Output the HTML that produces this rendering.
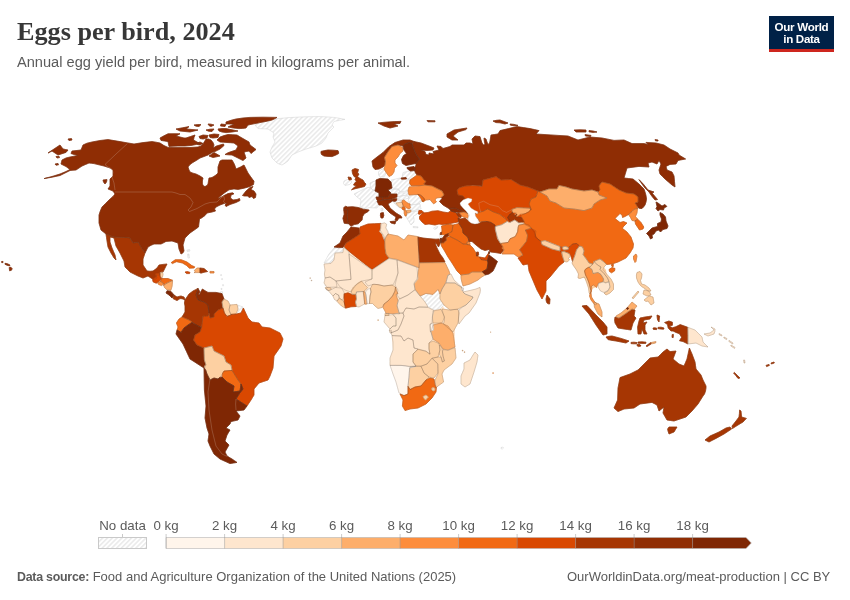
<!DOCTYPE html>
<html><head><meta charset="utf-8">
<style>
html,body{margin:0;padding:0;background:#fff;}
body{width:850px;height:600px;position:relative;overflow:hidden;font-family:"Liberation Sans",sans-serif;}
#title{position:absolute;left:17px;top:15.5px;font-family:"Liberation Serif",serif;font-weight:bold;font-size:26.2px;line-height:32px;color:#373737;white-space:nowrap;letter-spacing:0px;}
#sub{position:absolute;left:16.5px;top:52.5px;font-size:14.61px;line-height:18px;color:#5b5b5b;white-space:nowrap;}
#logo{position:absolute;left:769px;top:16px;width:65px;height:33px;background:#002147;border-bottom:3px solid #ce261e;color:#fff;font-weight:bold;font-size:11.6px;line-height:12px;text-align:center;}
#logo span{display:block;padding-top:4.8px;letter-spacing:-0.3px;}
#foot-l{position:absolute;left:16.5px;top:569px;font-size:13px;line-height:16px;color:#5b5b5b;white-space:nowrap;}
#foot-r{position:absolute;right:19.5px;top:569px;font-size:13px;line-height:16px;color:#5b5b5b;white-space:nowrap;}
svg{position:absolute;left:0;top:0;}
.lg{font-size:13.3px;fill:#5b5b5b;font-family:"Liberation Sans",sans-serif;}
#foot-l b{font-size:12.4px;letter-spacing:-0.25px;}
#title,#sub,#foot-l,#foot-r,#logo,svg{will-change:transform;}
</style></head><body>
<div id="title">Eggs per bird, 2024</div>
<div id="sub">Annual egg yield per bird, measured in kilograms per animal.</div>
<div id="logo"><span>Our World<br>in Data</span></div>
<svg width="850" height="600" viewBox="0 0 850 600">
<defs>
<pattern id="hatch" width="3.4" height="3.4" patternUnits="userSpaceOnUse" patternTransform="rotate(45)">
<rect width="3.4" height="3.4" fill="#fff"/><line x1="0.8" y1="0" x2="0.8" y2="3.4" stroke="#e9e9e9" stroke-width="1.5"/>
</pattern>
</defs>
<g id="map" stroke-linejoin="round">
<g stroke="none">
<path fill="#fee6ce" d="M330 262L345 250L372 266L388 256L397 258L417 265L419 290L425 300L440 300L445 310L455 312L455 345L440 352L436 376L425 385L410 390L395 366L392 340L397 315L385 310L372 300L345 300L332 290L326 280Z"/>
<path fill="#fdd0a2" d="M580 250L590 263L600 262L606 270L608 282L604 290L598 286L590 290L588 280L580 276Z"/>
<path fill="#d94801" d="M455 195L470 188L530 190L530 206L500 214L480 208L470 210Z"/>
<path fill="#d94801" d="M500 205L520 205L526 222L508 224Z"/>
<path fill="#f16913" d="M520 205L540 205L542 243L530 236L526 228L522 222Z"/>
<path fill="#d94801" d="M524 229L534 229L540 242L526 244Z"/>
<path fill="#fee6ce" d="M328 289L345 290L347 304L340 303L333 297Z"/>
</g>
<g fill="url(#hatch)" stroke="#d0d0d0" stroke-width="0.5">
<path d="M255 125L260 122L269 120L278 118.6L289 117.6L300 117L310 116.7L320 116.6L327 116.9L334 117.4L340 118.4L345 119.4L339.5 120.4L334 121.4L333 123.2L332 125L334 127L331 130L328 133L327 135.5L326 138L324 140.5L322 143L319 144.6L316 146L311 147.6L306 149L302 150.5L298 152L295 153.5L292 155L290 158L288 161L285 163.2L282 165L279.5 164.2L277 163L274.5 160.5L272 158L271 155L270 152L271 149.5L272 147L273.5 144.5L275 142L274 139.5L273 137L273.5 135L274 133L271 131L268 129L263 128.8L258 128.6Z"/>
<path d="M186.8 250L189.6 249.6L190 251L187.4 251.6Z"/>
<path d="M187.6 254L189 254L189.4 258L188 258Z"/>
<path d="M220.6 291.6L222.6 291.6L222.6 293.6L220.6 293.6Z"/>
<path d="M220.6 274.6L221.6 274.6L221.6 275.6L220.6 275.6Z"/>
<path d="M221.6 278.6L222.6 278.6L222.6 279.6L221.6 279.6Z"/>
<path d="M222.6 284.6L223.6 284.6L223.6 285.8L222.6 285.8Z"/>
<path d="M221 288.4L222 288.4L222 289.4L221 289.4Z"/>
<path d="M237.4 305L240.2 306L243 307L242 310L241 313L239.5 313.3L238 313.6L237 314L238 311.5L238 309L237.5 306.7Z"/>
<path d="M403 172.5L407.5 171.4L410.5 171.2L414.5 170.8L415.6 173L417 175L415 176.5L410 179.6L406.5 178.8L406 177.3L402.5 177.4L402.4 175Z"/>
<path d="M344 181L347.5 179.5L349 180L351 180L351.5 182.5L349.5 184.5L345 185.5L343.5 183.5Z"/>
<path d="M378.5 172L381 169.5L383.5 169L386 171L385.5 174.5L384 177L380 177L378.6 175Z"/>
<path d="M370 183L373 181.6L376 181L376 186L375.5 188.5L375 191L372.5 190L370.5 187.6Z"/>
<path d="M354 194L357 192.5L360 191L363 189.5L366 188L368.5 187.5L370.5 187.6L372.5 190L375 191L377 192L379 193L379 195L378 198L377.5 199.5L377 201L378 203L379 205L378 206.5L377 208L373 207.8L369 207.6L367.5 208.3L366 209L363 208L360 207L360.5 203.5L361 200L359 198.5L357 197Z"/>
<path d="M381 208.4L382.7 208.2L383 210L382 211.4L381 210.4Z"/>
<path d="M388 190L393 189.5L398 189L399 190.5L400 192L398 193L396 194L393 194L390.4 193.6L389.5 191.5Z"/>
<path d="M391 180L395.5 179L400 178L404.5 178.5L409 179L409.5 182.5L410 186L409.5 188.5L409 191L404.5 191.3L400 191.6L398.6 189L396 188.8L392 188L391.5 185L391 182Z"/>
<path d="M399 192.8L403.5 192.8L408 193L407.5 194.2L407 195L402 195.8L398 196.4L397 195L398 193.6Z"/>
<path d="M397 197L402 196L407 195L408 196.5L409 198L405.5 199L402 200L399.5 199.7L397.6 199Z"/>
<path d="M393 201.2L396 201L399 200.4L402.1 200.7L402.1 202.3L395.9 203.1L397.3 204.9L399.9 207.6L402.1 207.3L402 208.7L398.5 207L396 205L394 203Z"/>
<path d="M408 196L413 195.2L418 194.4L419 196.5L420 198.5L421 200L422 201L420.5 202.5L419 204L414.5 204.5L410 205L409 203L408 201L409 198.5Z"/>
<path d="M410 205L415 204.5L420 204L420.5 206.5L421 209L416.5 210L412 211L410.6 209.6L410 207Z"/>
<path d="M406 215L409 213.3L412 211.6L416 211.3L420 211L418 213L416 215L414.5 215.5L413.5 216L414 219L414 222L412.5 223.5L411 225L409.5 222.5L408 220L406.6 217.6L405.6 215Z"/>
<path d="M413 226.6L418 226.8L418 227.8L413.2 227.6Z"/>
<path d="M433.5 228L435.5 227L438 226.5L437 228.4L434.6 229.4Z"/>
<path d="M324 263L326.5 258.5L329 254L331.5 251L334 248L338.8 248L343.6 248L343.3 250L343 252L339 252.2L335 252.4L334.5 256.2L334 260L332.5 261.5L331 263Z"/>
<path d="M325 284.6L331 284.4L331 285.6L325.2 285.8Z"/>
<path d="M420 296L423 294.7L426 293.4L429.5 293.9L433 294.4L435.5 291.9L438 289.4L439 291.7L440 294L440 296.5L440 299L442 302L444 305L442 307L440 309L437 309.5L434 310L431 308.5L428 307L426.5 304.5L425 302L422.5 299Z"/>
<path d="M439.8 234.5L441.2 234.5L441.7 238.5L440 238.5Z"/>
<path d="M501 447.6L502.6 447L503.6 448L502.4 449L501.2 448.8Z"/>
</g>
<defs>
<path id="p0" d="M44 178.6L52 176.5L60 174L66 171.5L70 169.5L66 166.5L61 164L62 160L66 158L70 157L78 155.4L74 154.5L71 153.5L72 151L76 150.6L81 150L82 147.5L83 145L87 143.2L92 142L100 140.5L108 139.6L114 140.6L120 141.6L128 143L134 144L143 142.6L152 141.6L156 142.2L160 143L164 145.6L168 147.4L174 147.6L180 147.6L190 147.5L198 147L201 146L203 144L204.5 141.5L206 139L208.5 139L211 140L213 142.5L214 145L213 148L216.5 146L220 145L223.5 144L224 145.5L222 147.3L220 149L217.5 150.3L215 151.5L213 152L210.5 153.5L208 155L204 156.5L200 158L197 160L192 163L189.5 165L188 167L189 170L190 172L193 173.2L196 174L200 176L203 178L202.4 181L202.4 184L203.5 186L205 186.6L207 185.5L208 184L208.5 181L209 178L211 177.8L213 177L216 175L218 173L218 170L218 167L219 164L220 161L222 160L223 160L227.5 160L232 160L233.3 162.2L234.5 164.5L235.3 166.8L236 169L240.5 167L244 165L246 169L248 173L250.5 176.5L253 180L254 181L253.5 184.5L250 186.5L244 188.2L238 189.4L234 188.9L229 189.8L224 193.2L220 196.4L218.5 198L218.5 198.5L221 197.3L224 195.6L228 193.6L232.5 192.8L234 193.8L231 195L230.5 198L233 200L237 199.5L239.5 198.5L240 200.5L236 202.5L230 204.5L226 206.5L225 205L227 203L224 203.5L220 205L216 207L214.5 209L215.5 211L212 212L207 213L205 215.5L201.5 218L199.5 219L199 223L198.5 227L195 229.5L190 233L187.5 235.5L185 238L184 241.5L183 245L183.5 248L184 251L182.8 253L181 254L180 251.5L179 249L178.5 246L178 243L175 242L172 241L169 241.2L166 241.4L163.5 242.8L161 244L157.5 244L154 244L151 245.3L148 247L146.5 250L145 253L143.5 251L142 249L140 245.5L138 242L135.5 242.6L133 243L131.5 240.5L130 238L127.5 237.6L125 237.4L119 237.2L114 237L110 235.5L106 234L103.5 232L101 230L100 226.5L99 223L99 219L99 215L100.3 211L102 207L105.5 203.5L109 200L111 198.2L113 196.4L114 195.2L115 194L114 192.5L113 191L110.5 190L108 189L109 187.5L110 186L110 182.5L110 179L111.5 177.5L113 176L113 173L113 170L111.5 169L110 168L107 167L104 166L99 164.8L94 163.6L91.5 163.3L89 163L85.5 164.5L82 166L79 168L76 170L73 170.2L70 170.5L65 173L60 175.5L52 177.2Z"/>
<path id="p1" d="M48 153L54 149L60 145L61.5 147L63 149L65.5 149.5L68 150L67 151.2L66 152.4L62 153.7L58 155L55 153L52 151Z"/>
<path id="p2" d="M68 139L71.5 138.6L72 140L69 140.6Z"/>
<path id="p3" d="M56 156.5L59 156.3L59.5 157.6L57 158Z"/>
<path id="p4" d="M55 164L58 163.4L58.5 164.8L56 165.2Z"/>
<path id="p5" d="M103 180L107 179.6L106.5 182L105 184L103.5 182Z"/>
<path id="p6" d="M160 138L164 135.8L168 133.8L174 133.7L180 133.8L178 134.9L176 136L180 137L184 138L186 138L190.5 136.5L195 135L194 137.5L193.5 140L197 142L200 143.6L196 144.5L191 145.5L185 146L178 146L173 146.2L169 146.4L168.5 144L168 141.6L164.5 141L161 140.4Z"/>
<path id="p7" d="M176 129L182.5 127.8L189 126.6L187.5 128L186 129L192 129.5L198 130L194 131L190 132L185 131.5L180 131Z"/>
<path id="p8" d="M194 125L197.5 124.6L201 124.6L199 126.5L196 126.2Z"/>
<path id="p9" d="M208 124L211 124.2L214 125L211 126.5L209 125.6Z"/>
<path id="p10" d="M206 130L210 129.2L214 129L212 131.5L208.5 131.2Z"/>
<path id="p11" d="M221 124L226 124.6L225 126.5L220.5 126Z"/>
<path id="p12" d="M218 129L222 128.6L226 128.6L232 129.8L238 131L232 132L226 132.6L222 132L219 131Z"/>
<path id="p13" d="M226 122L231 120.3L236 119L243 118L250 117.4L263 117.2L277 117.4L274.5 118.8L272 120L266 121.4L260 122.6L254 123.8L248 125L247 126.5L246 128L242.5 128.4L239 128.6L233.5 128L228 127L231 125.5L234 124L230 124L226 124Z"/>
<path id="p14" d="M217 140L218.5 138.5L220 137L224 135.6L228 134.5L232.5 134.7L237 135L239.5 136.5L242 138L245.5 140L249 142L249.5 143.5L250 145L253 147.2L256 149.5L253.5 151.5L251 153.5L250 152.2L249 151L246.5 151.5L244 152L244.5 153.5L245 155L245.5 156.5L246 158L244.5 159.3L243 160.5L240.5 159.3L238 158L235 156.5L232 155L228.5 154.8L225 154.5L227.5 153L230 152L233 151L236 150L237 148L238 146L236 144.5L234 143L230.5 142.7L227 142.5L223.5 142.2L220 142Z"/>
<path id="p15" d="M209 156L211.5 154.2L214 152.5L217 154.2L220 156L216.5 156.8L213 157.5Z"/>
<path id="p16" d="M242.5 195.5L246 191L250 187.5L253 186.5L251 189.5L254 191L256 194L255.5 197.5L253.5 198.5L252 196.5L249 197.5L248 196L244.5 196Z"/>
<path id="p17" d="M1.5 261.6L3 261.4L3 262.6L1.7 262.6Z"/>
<path id="p18" d="M5 263.3L7.5 263.8L10 265L9.6 265.9L7 265.2L5 264.3Z"/>
<path id="p19" d="M9.2 267.5L11 267.3L12.2 268.8L11.4 270.3L9.6 270.8Z"/>
<path id="p20" d="M321 151.4L324.5 150.6L328 150L333 150.2L338 150.6L338.6 152L338.6 153.6L335.5 155.2L332 156.6L328 156.4L324 156L321.5 154.5L321 153Z"/>
<path id="p21" d="M106 234L110 235.5L114 237L119 237.2L125 237.4L127.5 237.6L130 238L131.5 240.5L133 243L135.5 242.6L138 242L140 245.5L142 249L143.5 251L145 253L144 256L143 259L143 262L143 265L145 268L147 271L150 271.3L153 271L155 269.6L157 268L158 266.5L159 265L163 264.4L167 264L166 266L165 268L164 270L163 272L161.5 272.6L160 273L160 275L158 275L156 275L156.5 276.5L157 278L155.5 279L154 280L151 278L148 276L145.5 277L143 278L140.5 277L138 276L134 274L130 272L127.5 269.5L125 267L124.5 264L124 261L122 257L120 253L118 249.5L116 246L115 242L114 238L112 237.4L110 237L110 239.5L110 242L111 245L112 248L113.5 251.5L115 255L115.5 257.5L116 260L115 259L114 258L112.5 255.5L111 253L109.5 250L108 247L107.5 244L107 241L106.5 237.5Z"/>
<path id="p22" d="M160.3 272.6L162.6 272L163 274.5L162.4 277.4L160.3 277.4L159.9 274.5Z"/>
<path id="p23" d="M152.6 279.7L156.2 276.8L155.6 273.8L159.7 273.2L160.3 277.4L162 278.5L159.1 281.5L156.2 283.2L153.2 282Z"/>
<path id="p24" d="M160.3 281.5L162 278.5L162.6 278.5L167.9 278.5L172.6 280.3L170.3 281.5L165.6 283.8L163.8 285.6L163.8 283.8L160.9 281.5Z"/>
<path id="p25" d="M157.4 282.6L160.9 281.5L163.8 283.8L161.5 285.6L158.5 284.4Z"/>
<path id="p26" d="M163.8 285.6L165.6 283.8L170.3 281.5L172.6 280.9L172.1 286.2L170.9 290.3L166.8 289.7L164.4 287.4Z"/>
<path id="p27" d="M167 290.8L169 291L171 291.4L172.5 293.2L174 295L173 296.8L172 298L170.5 296.5L169 295L167.5 294L166 293Z"/>
<path id="p28" d="M174 295L175.5 296L177 297L179 296.4L181 296L182.5 296.5L184 297L184.7 298.5L185 300L184 299.5L183 299L181.5 298.7L180 298.6L178.5 299.6L177 300.6L175 299.6L173 298.6L173.5 296.8Z"/>
<path id="p29" d="M171.2 262.6L175.3 259.7L181.2 259.7L187 262L191.8 265.6L194.7 266.8L194.1 268L189.4 268.2L186.5 265.4L182.4 263L176.5 261.7L172.4 263.6Z"/>
<path id="p30" d="M185 272L187.5 271.6L190 272.4L189.5 273.6L186.5 273.6Z"/>
<path id="p31" d="M195.3 271.5L194.3 270.4L197 268L200 268L200 272.6L194 272.6Z"/>
<path id="p32" d="M200 268L204 268.5L207.6 271.5L204 272.3L200.6 273.2L200 272.6Z"/>
<path id="p33" d="M210 271.4L214 271.5L214 273L210 273Z"/>
<path id="p34" d="M185 300L187 297L189 294L191 292.5L193 291L195.5 289.7L198 288.4L197 291.7L196 295L197 297.5L198 300L201 301L204 302L206 303.5L208 305L208.5 309L209 313L208.5 314.5L208 316L205.5 316L203 316L202.3 321.5L201.6 327L200.3 326.7L199 326.4L197.5 325.7L196 325L194 323.5L192 322L190.5 321L189 320L185.5 318.5L182 317L183.5 314.5L185 312L185 309L185 306L184.4 303Z"/>
<path id="p35" d="M198 288.4L199 290.2L200 292L199.2 293L198.4 294.6L199.6 294.6L200.4 292.6L201.4 290.8L202.4 289L205 290.7L208 292.4L212 292.4L216 292.4L219 293L222 293.6L223 296.3L224 299L223 300.5L222 302L222.5 305L223 308L220.5 309L218 310L216 312L214 314L214 317L212 317.5L210 318L209.5 315.5L209 313L208.5 309L208 305L206 303.5L204 302L201 301L198 300L197 297.5L196 295L197 291.7Z"/>
<path id="p36" d="M224 299L226 300L228 301L229 303L230 305L229.5 307.5L229 310L230 312.5L231 315L229 315.7L227 316.4L225.7 314.7L224.4 313L223.7 310.5L223 308L222.5 305L222 302L223 300.5Z"/>
<path id="p37" d="M230 305L233.5 304.7L237 304.4L237.5 306.7L238 309L237 311.5L236 314L233.5 314.2L231 314.4L230 312.5L229 310L229.5 307.5Z"/>
<path id="p38" d="M182 317L185.5 318.5L189 320L192 322.2L188 325L186 326.5L184 328L182.5 330.2L181 332.4L179 331.2L177 330L177.5 328.5L178 327L177.2 325L176.4 323L177.7 321L179 319Z"/>
<path id="p39" d="M188 325L190 323.7L192 322.4L195.5 324.4L199 326.4L200.3 326.9L201.6 327.4L200.8 329.7L200 332L197.5 333.5L195 335L194.3 337.5L193.6 340L195.3 342.5L197 345L200.5 346.5L204 348L204.2 354L204.4 360L205.2 362.5L206 365L205 366.5L204 368L197 363.5L190 359L186.5 351.5L183 344L179.5 339L176 334L176.5 332L177 330L179 331.2L181 332.4L182.5 330.2L184 328L186 326.5Z"/>
<path id="p40" d="M214 314L216 312L218 310L220.5 309L223 308L223.7 310.5L224.4 313L225.7 314.7L227 316.4L229 315.7L231 315L231 314.4L233.5 314.2L236 314L237 314L238 313.6L239.5 313.3L241 313L242.2 310.5L243.4 308L245.7 313L248 318L250 320L252 322L255.5 322.5L259 323L260.5 325L262 327L266 327.5L270 328L275 330.5L280 333L281.5 336L283 339L282 342.5L281 346L277.5 351L274 356L273.5 362L273 368L271.5 372L270 376L269 378L268 380L263.5 381.5L259 383L256.5 386L254 389L254 392L254 395L252.5 397.5L251 400L249 403L247 406L241.5 402.5L236 399L239.5 393.5L243 389L242 386.5L241 384L239.5 382L238 380L235 375.2L232 370.4L231.5 367.7L231 365L228.5 363.5L226 362L225 359L224 356L219 353.5L214 351L213 348.5L212 346L208 347L204 348L200.5 346.5L197 345L195.3 342.5L193.6 340L194.3 337.5L195 335L197.5 333.5L200 332L200.8 329.7L201.6 327.4L202.3 321.5L203 316L205.5 316L208 316L209 313L209.5 315.5L210 318L212 317.5L214 317Z"/>
<path id="p41" d="M204 348L208 347L212 346L213 348.5L214 351L219 353.5L224 356L225 359L226 362L228.5 363.5L231 365L231.5 367.7L232 370.4L228 370.7L224 371L222.5 373.5L221 376L219.5 377.5L218 379L216 378.5L214 378L212 379L210 380L208.5 377L207 374L205.7 370L204.4 366L206 365L205.2 362.5L204.4 360L204.2 354Z"/>
<path id="p42" d="M224 371L228 370.7L232 370.4L235 375.2L238 380L239.5 382L241 384L240.5 387.5L240 391L236.5 391.5L233 392L233.5 389L234 386L230.5 384L227 382L224.5 379.5L222 377L222.5 373.5Z"/>
<path id="p43" d="M204 368L205.7 370L207 374L208.5 377L210 380L212 379L214 378L216 378.5L218 379L219.5 377.5L222 377L224.5 379.5L227 382L230.5 384L234 386L233.5 389L233 392L236.5 391.5L240 391L240.5 387.5L241 384L242 386.5L243 389L239.5 393.5L236 399L241.5 402.5L247 406L245.5 408L244 410L240 410.5L236 411L238 413.5L240 416L239 418L238 420L234.5 420.8L231 421.6L230.5 422.8L230 424L228 426L226 428L228 429L230 430L228.5 432.5L227 435L226 438L225 441L227 443L229 445L227 448.5L225 452L226 454L227 456L229.5 457.5L232 459L234.5 460.7L237 462.4L233.5 463L230 463.6L225 461.3L220 459L217 456.5L214 454L212 450L210 446L209 443.5L208 441L208.5 437.5L209 434L208 431L207 428L206 423L205 418L205.5 412L206 406L205.2 398L204.4 390L204.2 380Z"/>
<path id="p44" d="M412 143.5L414 141.5L421 143L429 146L434 148L433 150L427 150.5L421 150L425 151.5L426 154.5L429 155L429 153L434 154L433 151.5L439 150L437 146L441 146.5L443 148.5L450 146.5L452 145L458 145L464 145L466 143L470 143L473 144L472 139L475 136L480 136.6L481 140L482 143L483.5 145L485 144.5L484.3 141L484 138L486 139L487 142L488 144.5L489.5 143L490 141L490.5 138L491 135L494.5 134.5L498 134L499 132.3L500 130.6L508.5 128.6L517 126.6L523.5 127.6L530 128.6L534.5 129.6L539 130.6L537.5 132.3L536 134L547 134.7L558 135.4L563 135.7L568 136L573 138L578 140L582 139L586 138L588 137.5L590 137L596 137.5L602 138L608 139.2L614 140.4L619 140.2L624 140L628 141.8L632 143.6L638 143.6L644 143.6L646 144L648 144.4L647 143.4L646 142.4L651 142.7L656 143L660 144L664 145L667 147L670 149L674 151L678 153L678.5 154L679 155L682.3 157L685.6 159L681.8 159.7L678 160.4L677 162.2L676 164L673 164.2L670 164.4L668 165.4L666 166.4L666.5 168.2L667 170L669.5 171L672 172L673 174L674 176L674.5 181.5L675 187L673.5 186L672 185L668.5 182L665 179L662.5 176.5L660 174L659.5 172L659 170L660 167L661 164L660 162.2L659 160.4L658 162.2L657 164L654.5 163L652 162L650 162.5L648 163L648.5 165L649 167L644 166.7L639 166.4L633 167.2L627 168L625.5 173L624 178L628.5 178.5L633 179L636 181.5L639 184L641.5 186.5L644 189L645 192L646 195.5L646.5 199L646 202L645 205L643.5 207L642 208.5L640 208.4L638.5 208L637 206L635 203L638 202L638 197L634 194L626 193L619 190L616 188L613 186L610 184L606 183L602 182L600.5 184L599 186L599.5 188L600 190L598 192L595 191L592 190L588 190.5L584 191L578 190L572 189L569 188L566 187L562.5 186.2L559 185.4L558 187.2L557 189L553 189L549 189L544.5 190.5L540 192L538 191L533 189L528 187L524 186L520 185L515.5 182.2L511 179.4L506 179.7L501 180L498.5 178.3L496 176.6L489.5 178.3L483 180L482.5 183L482 186L477 185.5L472 185L471 185.5L465 186L460 187.5L457 190L457.5 192.5L458 195L463 196L465 198.5L463 200L460 203L460.5 205L463 208L466 211L467.5 213.5L464 212L463 211L459 210L455 208L452 208.2L449 208.5L448 208L443 205L439.5 201.5L442 198.5L441 197.5L442.5 196.3L444 195L443 193L442 191L437 188.5L432 186L428 185.5L425 185L424 183.5L426 181.5L424 180L421 176L417 175L415.6 173L414.5 170.5L415 167.5L416 165L416 163.5L417.7 161.2L419.5 159L417 156L415 152L413 147Z"/>
<path id="p45" d="M401 178L406 177.5L406.5 179L401.5 179.2Z"/>
<path id="p46" d="M639 179.6L643.5 184.3L648 190L651 191L654 192L652 193L655 196.5L657.5 199.5L655 200L652.5 197L651 195L649 192L645 188L642 184Z"/>
<path id="p47" d="M447 134L450.5 132L454 130L460.5 129L467 128L466 129.6L462 130.8L458 132L455.5 134L453 136L455.5 138L458 140L455 140L452 140L449.5 138.5L447 137Z"/>
<path id="p48" d="M378 123L383 122.4L388 122L394.5 121.6L401 121.4L400.5 122.4L400 123.4L397 123.7L394 124L396 125L398 126L394 127L390 128L387 127L384 126Z"/>
<path id="p49" d="M427 120.6L435 120.8L435 121.8L428 121.8Z"/>
<path id="p50" d="M493 121L496.5 120.3L500 120L504 121.5L508 123L505 124L500 122.8L496 122.6Z"/>
<path id="p51" d="M510 124L514 124.4L518 125.4L514 125.8L510.5 125.2Z"/>
<path id="p52" d="M574 130L580 129.8L586 130L586 132L580 132L576 132Z"/>
<path id="p53" d="M589 130.6L593 131L597 132L593 132.4L589 131.8Z"/>
<path id="p54" d="M585 134.6L591 135.4L590.5 136.4L585.5 136Z"/>
<path id="p55" d="M655 139.6L658 140L658 141L655.5 140.8Z"/>
<path id="p56" d="M372 161L377 157L383 152.5L389 146.5L395 142.5L403 140L410 140L414 141.5L412 143.5L409 142.5L405 144L403 146L398 145L392 146.5L387.5 152.5L384.5 157.5L385.5 161.5L385 165L383 167L379 169L375 169.5L373 167Z"/>
<path id="p57" d="M392 146.5L398 145L402.5 147.5L403 151L400 153.5L398 157L395 160L395 163L397 165.5L394.5 168.5L394 172L392 175L389 176.5L386.5 173L384 169L385 165L385.5 161.5L384.5 157.5L387.5 152.5Z"/>
<path id="p58" d="M405 144L409 142.5L412 143.5L413 147L415 152L417 156L419.5 159L416 163.5L413 164L406 165.5L402.5 163.5L401.5 159.5L403.5 155.5L406.5 153.5L405 151.5L403.5 149L403 146Z"/>
<path id="p59" d="M407 167.5L414 166.5L415 167.5L414.5 170.5L410.5 171L407.5 169Z"/>
<path id="p60" d="M410 180L415 176.5L417 175L421 176L424 180L426 181.5L424 183.5L425 185L421 185.5L411 185.5L409.5 183Z"/>
<path id="p61" d="M409 187L414 186.4L419 186L421.5 185.5L424 185L428 185.5L432 186L437 188.5L442 191L443 193L444 195L442.5 196.3L441 197.5L438.5 197.7L436.5 198L435 200L436.5 201.8L435 203L433.5 203.8L431.5 201.5L430 199.5L428 199.8L426 200L424.5 201L423 202L422.5 200.5L424.5 199.5L423 197.5L421 195L417.5 194.5L413.5 194.7L409 195L408.5 193L408 191Z"/>
<path id="p62" d="M417.8 194.3L420.2 195.1L422.3 196.4L424.7 199.1L424.2 200.9L422.3 201.5L421.3 199.1L419.9 196.9Z"/>
<path id="p63" d="M352 170L355 168.5L358.5 169.5L357.5 173L359 174L357.5 176.5L360 178.5L363 180L364.5 182.5L366 184L364.5 186.5L360.5 187.5L356 188.5L351.5 189.8L354 187.5L356.5 186L353.5 185L355 182.5L356.5 181.5L355 179.5L356 177.5L354 176.5L352.5 173.5Z"/>
<path id="p64" d="M348 177L351 177.5L351.5 179.5L349 180Z"/>
<path id="p65" d="M376 180L378 179.2L380 178.4L384 178.7L388 179L389.5 180.5L391 182L391.5 185L392 188L390 189L388 190L389.5 191.5L391 193L389.5 195L388 197L383.5 197L379 197L379 195L379 193L377 192L375 191L375.5 188.5L376 186Z"/>
<path id="p66" d="M376 197L379 197L382 197L382.5 198.5L383 200L380.5 200.5L378 201L376.6 199.4Z"/>
<path id="p67" d="M382 197L385.5 197L388 197L389 195.5L390 194L393.5 194L397 194L397 195.5L397 197L394.5 198L392 199L389 199.3L386 199.6L383 200L382.5 198.5Z"/>
<path id="p68" d="M392 199.4L394.5 198.6L397 198.8L396.5 200.4L395 201.4L392.5 201Z"/>
<path id="p69" d="M377 201L380 200.5L383 200L384.5 199.8L386 199.6L389 199.5L392 199.4L392.5 201L391 202L389.5 203L388 204L389 206L390 208L393 210.5L396 213L398.5 214.5L401 216L401.5 217L402 218L400.5 218L399 218L398 219.5L397 221L396 220.5L395 220L395.5 218.5L396 217L393 215L390 213L387.5 210.5L385 208L383.5 206.5L382 205L380.5 205L379 205L378 203Z"/>
<path id="p70" d="M390 221.6L393 221.3L396 221L395.5 222.5L395 224L393 223.5L391 223Z"/>
<path id="p71" d="M380.6 213L383.4 212.6L383.8 215.5L383 218L381 218L380.4 215.5Z"/>
<path id="p72" d="M395.9 203.1L399 202.6L402.1 202.3L403.1 205.5L402.1 207.1L399.9 207.6L398.5 206.2L397.3 204.9Z"/>
<path id="p73" d="M402.1 200.7L403.9 199.9L406.3 202L408.5 203.6L410.1 203.9L409.8 206L410.6 207.6L409.5 208.7L407.9 208.4L406.6 207.9L405.5 207.1L403.7 206.5L403.1 205.5L402.1 202.3Z"/>
<path id="p74" d="M402.1 207.3L403.7 206.8L405.3 207.9L404.7 209.7L403.1 210L402 208.7Z"/>
<path id="p75" d="M404.2 210L405.5 209.7L406.3 211.3L406.9 213.5L406.1 216.1L405 215.9L404.2 213.5Z"/>
<path id="p76" d="M406.6 210.5L408.5 210L410.9 210.3L411.1 211.6L409 212.7L407.1 212.9L406.6 211.6Z"/>
<path id="p77" d="M347.5 207L352.5 206.7L358.3 207.5L363.3 209.2L369.2 210L367.9 211.7L364.2 213.8L362.5 216.7L362.1 220L358.3 223.8L354.2 224.6L350.8 226.2L348.8 223.8L347.9 221.7L347.1 215.8L347.9 210.4L346 209.6L343.8 210L343.8 207.5L345.8 206.2Z"/>
<path id="p78" d="M343.8 210L346 209.6L347.9 210.4L347.1 215.8L347.9 221.7L348.8 223.8L344.2 223.3L342.9 218.3L344.2 214.2Z"/>
<path id="p79" d="M419.5 216.5L422.5 213L428 212.5L432 211.2L438 210.7L443 212L448 212.7L450.5 211L455 212.2L457.5 214.5L459 218L458 222L453 223L448 224L442 224.5L439 224L435 225L429 224L425 224.5L422 222L419.5 219Z"/>
<path id="p80" d="M418.9 210.5L421.8 210.5L423.7 212.4L421.8 212.9L419.7 214.3L418.3 214Z"/>
<path id="p81" d="M449 208.5L452 208.2L455 208L459 210L463 211L464 212L460 212.5L455 212.2L451 211Z"/>
<path id="p82" d="M456.5 213.5L459.5 212.8L461.5 215.8L461.5 216L460.5 218L458 216Z"/>
<path id="p83" d="M460 212.5L464 212L467.5 213.5L468 215L468.5 218.5L466 217.5L463 217L461.5 215.8L459.5 212.8Z"/>
<path id="p84" d="M465 198.5L463 196L458 195L457.5 192.5L457 190L460 187.5L465 186L471 185.5L477 185.8L482 186.5L482.5 183L483 180L489.5 178.3L496 176.6L498.5 178.3L501 180L506 179.7L511 179.4L515.5 182.2L520 185L524 186L528 187L533 189L538 191L537 194L536 197L533.5 198L531 199L530 201.5L529 204L530 206.3L531.2 210L530 208.2L523.5 207.9L517 207.6L511.8 209.4L512.4 212.4L510 214L507.6 217.6L508.8 219.4L507.6 221.2L504.1 217.6L499.4 214.1L493 211.8L487.6 208.8L483.5 211.2L480.6 211.8L479 212.5L475 213L470 210L466 205L463 200Z"/>
<path id="p85" d="M511.8 209.4L517 207.6L523.5 207.9L530 208.2L531.2 210L525.3 213.5L520.6 214.1L517 216.5L514.7 215.3L516.5 213L512.4 212.4Z"/>
<path id="p86" d="M507.6 217.6L510 214L510.6 214.1L512.4 212.4L514.7 215.9L517 214.1L515.3 217L521.8 217.6L524.1 221.8L518.2 222.4L514.7 220L510 222.4L508.8 219.4Z"/>
<path id="p87" d="M476.5 214.1L479 212.5L480.6 212L483.5 211.2L487.6 208.8L493 211.8L499.4 214.1L504.1 217.6L507.6 221.2L501.8 224.7L495.3 226.5L491.2 222.4L485.3 221.2L479.4 221.8L478.2 218.8L475 217L475 213Z"/>
<path id="p88" d="M538 191L540 192L543.5 194L547 196L548.5 198.5L550 201L553 202L556 203L560 205.5L564 208L569 208.5L574 209L579 209.8L584 210.6L588 209.3L592 208L593 206L594 204L597 202L600 200L603.5 199L607 198L603 196.5L599 195L598.5 193.5L598 192L600 190L599.5 188L599 186L600.5 184L602 182L606 183L610 184L613 186L616 188L619 190L626 193L634 194L638 197L638 202L635 203L637 206L637.5 208.5L634.5 209L632 211.5L628.5 214.5L625 216.5L622.5 217.5L622.3 216L622 215L620 213.5L617.5 216L615 218.5L617.5 220.5L620 222.5L623.5 221.5L627 223L625 225L623 227L622.5 228.5L624.5 230L627 232L629 234.5L631 237L632 240L633.5 244L633 248L631.5 250.5L630 253L628 255.5L626 258L622 260L618 262L615 263L612 264L611.5 266L613 267L613.5 264.5L611 264L609 264.3L606.5 264.5L604 262L600 259L597 260.2L594 261.5L593 264L592.5 264L589 263L587 260L583 254.5L584 251L582.5 247L579.5 246L576.5 243.5L572.5 244L569.5 247L568.5 247.5L565 246.2L562 247.5L561.6 247L560 246.6L552.5 243.6L545 240.6L543 241L541 241.4L538 239.2L535 237L535.5 234L536 231L533.5 229.5L531 228L530 226.5L529 225L527 224.5L525 224L524.5 222.5L524 221L522.5 218.5L521 216L522 215L525.5 213.5L529 212L530 210.3L531 208.6L530 206.3L529 204L530 201.5L531 199L533.5 198L536 197L537 194Z"/>
<path id="p89" d="M609 269.5L612 267.5L615 268.5L614.5 271L611.5 272.8L609.5 271.5Z"/>
<path id="p90" d="M540 192L544.5 190.5L549 189L553 189L557 189L558 187.2L559 185.4L562.5 186.2L566 187L569 188L572 189L578 190L584 191L588 190.5L592 190L595 191L598 192L598.5 193.5L599 195L603 196.5L607 198L603.5 199L600 200L597 202L594 204L593 206L592 208L588 209.3L584 210.6L579 209.8L574 209L569 208.5L564 208L560 205.5L556 203L553 202L550 201L548.5 198.5L547 196L543.5 194Z"/>
<path id="p91" d="M628.5 214.5L632 211.5L634.5 209L637.5 208.5L637 213L635.5 216.5L637.5 219L635 221L632 220.5L630.5 217.5Z"/>
<path id="p92" d="M635 221L637.8 219.2L641 222.5L643.8 227L643 229L639.5 230L637.5 227L635.5 224Z"/>
<path id="p93" d="M656 202L658 203L662 206L665 204.5L666.8 206.5L664 208L663.5 210L660 209.5L658 211L656 208.5L657 206.5Z"/>
<path id="p94" d="M660 212.5L663 214L665.5 217L666 221L668 226L667 228.5L663 229.5L660.5 232L658.5 230L656 231L654 234L652 235L652.5 238L650.5 239L649 236L646.5 233.5L650 230L652 228L657.5 226.5L657.5 223.5L661 222L661.5 219L660 215Z"/>
<path id="p95" d="M633.5 256L636 254L637 256L636 261.5L635 262.5L633.5 259Z"/>
<path id="p96" d="M531.2 228.2L534.1 231.8L535.9 236.5L537 238L538 239.2L541 241.4L541.5 243L542 244.6L547 246.8L552 249L556 250L560 251L561 252L562 253L563 257.5L564 262L561.5 264L559 266L554.5 271.5L550 277L548 279L546 281L546 286L546 291L544 295L542 299L539.5 294.5L537 290L533 280.5L529 271L528.5 267.5L528 264L525.5 264.5L523 265L520.5 261.5L518 258L520.5 256.5L523 255L521 251.5L519.4 250L521.8 247L526.5 241.2L527.6 235.3L525.3 230Z"/>
<path id="p97" d="M560 251L560 247L561.6 247L562 247.5L563.5 250L568 249.5L568.5 247.5L569.5 247L572.5 244L576.5 243.5L579.5 246L576.5 250L575 255L573.5 259L572.5 261.5L571.5 258L570.5 255L569 253.5L564 251.5L561.5 252Z"/>
<path id="p98" d="M541 241.4L543 241L545 240.6L552.5 243.6L560 246.6L560 249L560 251L556 250L552 249L547 246.8L542 244.6L541.5 243Z"/>
<path id="p99" d="M562 247.5L565 246.2L568.5 247.5L568 249.5L563.5 250Z"/>
<path id="p100" d="M561.5 252L564 251.5L569 253.5L570 256.5L568.5 258.5L569.5 260L567 262L564.5 261.5L562.5 256.5Z"/>
<path id="p101" d="M547 295L548.5 297L550 299L549.8 301.5L549.6 304L548.3 303.8L547 303L546.2 301L546 299Z"/>
<path id="p102" d="M579.5 246L582.5 247L584 251L583 254.5L587 260L589 263L592.5 264L590 267L586.5 268.5L584.5 271L585.5 275L587.5 279L589 283L590 287L591 291L590 294L589.2 293L588.5 288L586.5 282L584.5 277L584 277L580 278.5L578 278L578.5 274L576.5 270L573 265L572 263L573.5 259L575 255L576.5 250Z"/>
<path id="p103" d="M585.5 269L589 267L592 269.5L593 273.5L598 272.5L601 274.5L603.5 279L603 281.5L598.5 283L597 286L596.5 287.5L593.5 285L591.5 286L591.8 289L591 293L591.5 297L594 301L597 304L595 305L591 300L589.5 296L590 294L591 291L590 287L589 283L587.5 279L585.5 275L584.5 271Z"/>
<path id="p104" d="M590 267L593 264L594 261.5L597.5 265L601 267L600 269.5L604 273.5L607.5 278L609 281.5L605.5 282.5L603.5 281.5L603.7 279L601 274.5L598 272.5L593 273.5L592 269.5L589 267Z"/>
<path id="p105" d="M594 261.5L597 260.2L600 259L604 262L606.5 264.5L604 267L603 269.5L607 274.5L611 279L613.5 284L613.5 289.5L610 293L606 295L604 293L608 291L610 287L609 281.5L607.5 278L604 273.5L600 269.5L601 267L597.5 265Z"/>
<path id="p106" d="M598.5 283.5L603 282L605.5 283L609 282L610 287L608 290.5L604 292.5L600.5 291L598 287Z"/>
<path id="p107" d="M594 302L596.5 303L599 304L600.5 308L602 312L602 314.5L602 317L600 315.5L598 314L596.2 310.5L594.4 307Z"/>
<path id="p108" d="M637 272.5L640 271.5L642 274L641.5 278L640.5 280.5L641.5 284L645 285L647 286.5L649 288L650 289.5L651 291L649.5 291L648 291L646 289.5L644 288L642 286.8L640 285L638 282L636.5 278L636.4 275Z"/>
<path id="p109" d="M644 290L646.5 290.5L649 291L650 293L651 295L649 295.5L647 296L645 295L643 294Z"/>
<path id="p110" d="M644 300L646.5 298L649 296L651 296.5L653 297L653.5 300L654 303L652.5 304L651 305L649.5 303L648 301L646 301.5Z"/>
<path id="p111" d="M632 298L635 294.5L638 291L639 292L636.2 295.2L633.5 298.5Z"/>
<path id="p112" d="M582 306L584.5 305.6L587 305.6L591.5 310.3L596 315L599.5 318.5L603 322L605 324.5L607 327L607 330.5L607 334L605 334.5L603 335L599.5 330L596 325L592.5 319.5L589 314L585.5 310Z"/>
<path id="p113" d="M606 337L609 336.3L612 336L616.5 337.2L621 338.4L625 339.7L629 341L627.5 342L626 343L621 342L616 341L612 340.4L608 339.6Z"/>
<path id="p114" d="M631 342.4L634 342.2L637 342.6L636.6 343.8L633.5 343.8L631 343.6Z"/>
<path id="p115" d="M638 342L642 341.8L646 342.2L645.8 343.4L642 343.4L638 343.2Z"/>
<path id="p116" d="M637 344.4L640 344.6L641 346L638.5 346.6L637 345.6Z"/>
<path id="p117" d="M646 346L648 344.5L650 343L651 342.6L651.4 343.8L649.5 345L647 346.6Z"/>
<path id="p118" d="M651 342.6L653.5 342L656 341.6L655.6 343L653 343.6L651.4 343.8Z"/>
<path id="p119" d="M615 317L617 317.5L619 318L622 316L625 314L628.5 311.5L632 309L633.5 309.5L635 310L634.5 313L634 316L635 317L636 318L634.5 320.5L633 323L632 326.5L631 330L627.5 329.5L624 329L621 328.5L618 328L616.5 325.5L615 323L614.6 320Z"/>
<path id="p120" d="M616 316L618.5 314.5L621 313L624 310.5L627 308L629.5 305L632 302L634.5 304L637 306L635.5 307.8L634 309.6L633 309.3L632 309L628.5 311.5L625 314L622 316L619 318L617 317.5Z"/>
<path id="p121" d="M626.4 308.4L627.8 307.4L628.6 308.6L627.4 309.6Z"/>
<path id="p122" d="M640 318L642.5 317.5L645 317L648.5 316.5L652 316L651 317.5L650 319L647 319.5L644 320L643.5 321.5L643 323L645 322.5L647 322L646 323.5L645 325L645 327.5L645 330L646 332L647 334L645.5 334L644 334L643 331.5L642 329L641.5 331.5L641 334L639.5 334L638 334L637.8 330.5L637.6 327L638.3 324L639 321Z"/>
<path id="p123" d="M657 315L659.6 316L659.3 319L659 322L657.6 320L657.2 317.5Z"/>
<path id="p124" d="M658 327.4L661 327.2L664 328L663.6 329.2L660.5 329L658 328.6Z"/>
<path id="p125" d="M653 328L655 327.8L657 328.4L656.6 329.6L653.4 329.4Z"/>
<path id="p126" d="M664.6 322.5L668.9 321L672.4 322.2L672.4 325.3L668.9 326L672.4 327.8L675.9 326.7L680.2 324.6L687.6 327.2L688 335.5L688 344L683 341.5L679.5 340.8L681.6 337.3L679.5 333.8L675.9 332.4L673.1 331L671 331L668.2 328.1L667.5 324.6Z"/>
<path id="p127" d="M688 327.4L691.5 328.7L695 330L698.5 333.5L702 337L702.5 339.5L703 342L705.5 344.5L708 347L705 346.5L702 346L699 344.5L696 343L692 343.5L688 344L688 335.5Z"/>
<path id="p128" d="M704 334L707 333.5L710 333L712 331.5L714 330L712.5 328.5L711 327L713 328L715 329L714.8 331.5L714 334L711 335L708 336Z"/>
<path id="p129" d="M719 333.6L722 335L721.6 336L719 334.6Z"/>
<path id="p130" d="M724 337L727 338.6L726.6 339.6L723.8 338Z"/>
<path id="p131" d="M729 340.4L733 343L732.6 344L728.8 341.4Z"/>
<path id="p132" d="M731 345L735 347.4L734.6 348.4L730.8 346Z"/>
<path id="p133" d="M617.6 400L617.8 394L618 388L619 383L620 377.6L625 375.8L630 374L634 372L638 370L641 367L644 364L647 361L650 358L654 357.5L658 357L660.5 354.5L663 352L665 350.5L667 349L668.5 350.3L670 351.6L673 351.3L676 351L674.5 355L673 359L676 361.5L679 364L681.5 365L684 366L685.5 362.5L687 359L688.2 353.5L689.4 348L690.7 351L692 354L693.5 358L695 362L695.5 365.5L696 369L698.5 372L701 375L702 377.5L703 380L704.5 383L706 386L706 388L705.5 391L704.5 394L703 396L700.5 400L698 404L695 407.5L692 411L689 414L686 417L683 418L680 419L677 420L674 421L670.5 420.5L667 420L665 416.5L663 413L663.5 410L664 407L661.5 409L659 411L658 408L657 405L654.5 403.7L652 402.4L646 403.2L640 404L637 406L634 408L629 408.5L624 409L621 410.3L618 411.6L616 409.8L614 408L615.8 404Z"/>
<path id="p134" d="M669 427L673 427L677 427L675.5 429.5L674 432L671.5 433L669 434L668 431L667.6 429Z"/>
<path id="p135" d="M739.6 410L741 411L741.3 414L741.6 417L744 417.7L746.4 418.4L744.7 420.2L743 422L740.5 423.5L738 425L735.2 426.8L732.4 428.6L732.2 427.3L732 426L734 423.5L736 421L737.5 419L739 417L739.4 413.5Z"/>
<path id="p136" d="M730 427L731.6 429L727.8 431.5L724 434L720 436.2L716 438.4L712.5 440.2L709 442L707 441L705 440L707.5 438L710 436L714.5 434L719 432L722.5 430L726 428Z"/>
<path id="p137" d="M734.4 372.4L737.2 375.2L740 378L739 378.2L738 378.4L735.8 375.6L733.6 373Z"/>
<path id="p138" d="M766 365.4L769 364.4L769.4 365.4L766.6 366.6Z"/>
<path id="p139" d="M771 363L774 362L774.3 363L771.4 364Z"/>
<path id="p140" d="M743.6 360L744.6 360L745 363L744 363Z"/>
<path id="p141" d="M441.5 226L444.8 225L448 224L453 225L452.5 228.2L452 231.5L448.5 233.5L445 235L441.5 234.5L441.8 232L442 230Z"/>
<path id="p142" d="M440.4 232.6L441.6 232.4L441.4 234.5L440 234.5Z"/>
<path id="p143" d="M440 238.5L441.7 238.5L441.5 239.5L441 243L440.2 241Z"/>
<path id="p144" d="M441.5 239.5L443 237.3L445 235L448.5 233.5L449 235.5L446 237.5L446.5 240L443.5 243L441 243Z"/>
<path id="p145" d="M453 225L456 224.2L459 223.5L460.7 226.2L462.5 229L463 233L465.5 235.2L468 237.5L469 241.5L467 242L467 244L463 244L458 240.5L450 236.5L449 235.5L448.5 233.5L452 231.5L452.5 228.2Z"/>
<path id="p146" d="M467 242L469 241.5L470 243L470 244.8L467 244.5Z"/>
<path id="p147" d="M441 244L441 243L443.5 243L446.5 240.5L446 237.5L450 236.5L458 240.5L463 244L467 244.5L470 245L473 248L474.5 250.5L476 253L476.5 256L479.5 257L481 259.5L487.5 260.8L488 263L487 269L482 272L477 272L472 272L469 274L465 274.5L461 275L459 273L457 271L454.5 267L452 263L450 260L448 257L446 253.5L444 250L441.5 246Z"/>
<path id="p148" d="M476.5 252.2L478.3 252L478.6 254.5L477.8 256L476.5 256Z"/>
<path id="p149" d="M479.5 257L485 258L487 255.2L489 252.5L488.5 256.5L487.5 260.5L481 259.5Z"/>
<path id="p150" d="M489 255L493 258L497.5 261.5L496.2 264.2L495 267L493 271L489 274L485 275L482 272L487 269L488 263L487.5 260.5L488.5 256.5Z"/>
<path id="p151" d="M488.8 251.6L489.8 251.8L489.4 253.6L488.6 253.4Z"/>
<path id="p152" d="M461 275L465 274.5L469 274L472 272L477 272L482 272L485 275L481 277.5L478 280L474 282L470 284L466.5 285L463 286L462.3 283.5L461.6 281L461 278Z"/>
<path id="p153" d="M458 218L460.5 219L465 218L468 220.5L472 223.5L475 224L478 224L481.5 222L487 221.5L491 222.5L495 225L495.5 230L497 236L499 241L502.5 246L504 249.5L501 253.5L495 252.5L490.5 252L489 249.5L485 250.5L481 249L476 245L472 241.5L469 241.5L468 237.5L465.5 235.2L463 233L462.5 229L460.7 226.2L459 223.5Z"/>
<path id="p154" d="M495.3 229.4L495.3 226.5L501.8 224.7L507.6 221.2L508.8 222.4L510 222.4L514.7 220L518.2 222.4L518.2 223L524.1 223L523.5 224.1L518.8 224.7L518.2 227L517.6 231.8L515.3 236.5L510 238.8L508.2 242.4L500.6 243.5L497.6 238.8L496.5 234.1Z"/>
<path id="p155" d="M518.8 225.3L524.1 224.1L528.8 226.5L531.2 228.2L525.3 230L527.6 235.3L526.5 241.2L521.8 247L519.4 250L521 252.5L523 255L520.5 256L518 257L516 255.5L514 254L508 254L502 254L503 252L504 250L501.8 248L503 247L500.6 243.5L508.2 242.4L510 238.8L515.3 236.5L517.6 231.8L518.2 227Z"/>
<path id="p156" d="M334 247L337 245L340 243L341.5 239.5L343 236L345 234L347 232L349 229.5L351 227L355 227.5L359 228L359.5 231L360 234L357 236L354 238L350 240.5L346 243L344.5 245.2L343 247.4L338.5 247.6Z"/>
<path id="p157" d="M360 227L364 225.5L368 224L374.5 223.7L381 223.4L380.5 226.7L380 230L382 233L384 236L384.5 242L385 248L385.5 251L386 254L387.5 256L389 258L380.5 263.7L372 269.4L371 268.7L370 268L357 257.7L344 247.4L346 243L350 240.5L354 238L357 236L360 234L359.5 231Z"/>
<path id="p158" d="M380.8 223.8L384.6 222.9L386.7 224.2L385.8 227.9L387.9 231.7L388.3 234.2L385.4 236.7L384.6 240.4L383.3 237.5L382.1 234.2L379.6 231.7L380.8 228.3Z"/>
<path id="p159" d="M385 239L386.5 236.5L388 234L393 235L398 236L401 238L404 240L406 237.5L408 235L413 235.8L418 236.6L418.3 245L418.6 253L418.8 260L419 268L418 267.5L417 267L407 263.2L397 259.4L393 258.7L389 258L387.5 256L386 254L385.5 251L385 248L385 243.5Z"/>
<path id="p160" d="M418 237L423 238L428 238.6L433 239L436 239.2L439 239L439.8 241L440.2 243.5L438.5 247L437 244.5L435 242.5L436 245.5L437 248L440 254L443 258L445 262L432 262.4L419.6 262.6L419 253L418.4 245Z"/>
<path id="p161" d="M419.6 263L432 262.8L445 262.6L447 266.8L449 271L449.5 272.5L450 274L449 275L448 275L447 278.5L446 282L444 285.5L442 289L441 291.5L440 294L439 291.5L438 289.4L435.5 291.9L433 294.4L429.5 293.9L426 293.4L423 294.7L420 296L417.5 292.5L415 289L414.5 286L414 283L415.5 281L417 279L418 273L419 267.4Z"/>
<path id="p162" d="M324 264L327.5 263.7L331 263.4L332.5 261.7L334 260L334.5 256.5L335 253L339 252.8L343 252.6L343.3 250L343.6 248L344 247.4L346.5 249.8L349 252L349 254L350 266.5L351 279.4L343.5 280.2L336 281L333 279L330 277L327.5 277.5L325 278L324.4 274L325 270Z"/>
<path id="p163" d="M349 254L359.5 261.3L370 268.6L371 269.3L372 270L372 274.5L372 279L367 280L362 281L359 283L356 285L353.5 288.5L351 292L348 291L345 290L342.5 288.5L340 287L338 284L336 281L343.5 280.2L351 279.4L350 266.5Z"/>
<path id="p164" d="M372 270L380.5 264.3L389 258.6L393 259.3L397 260L397.5 266.5L398 273L396.5 277L395 281L394 283L393 285L388.5 285.5L384 286L379 285L374 284L371 285L368 286L366.5 284L365 282L368.5 280.5L372 279L372 274.5Z"/>
<path id="p165" d="M397 260L407 263.7L417 267.4L417.5 273.2L418 279L416 281.5L414 284L414.5 286.7L415 289.4L411.5 292.2L408 295L404 297L400 299L398.5 297L397 295L397.5 292.5L398 290L396.5 287.5L395 285L395.5 283L396 281L397 277L398 273L397.5 266.5Z"/>
<path id="p166" d="M325 278L327.5 277.5L330 277L333 279L336 281L336.5 284L337 287L332 287.2L327 287.4L325.5 285.2L324 283L324.6 280.5Z"/>
<path id="p167" d="M325.3 287.6L328.5 287.4L331 288L331.2 289.6L329 290.6L326.5 289.8Z"/>
<path id="p168" d="M325.5 288L328.5 290.5L331.5 289.5L335.5 287.5L341.5 288L344 292L344.2 296L343 299L342 300L339.5 298.2L339 295.5L335.5 293.5L333 296L329.5 292Z"/>
<path id="p169" d="M333 296L335.5 293.5L338.5 295L339 298L337 301L334.5 299.5Z"/>
<path id="p170" d="M337 301.2L339.5 298.2L342 300L344.2 302L345 308L341.5 306L338.5 303Z"/>
<path id="p171" d="M344.2 293.8L348 292.8L352 294.5L356 294.5L356.5 299L355.5 302L356.5 306.5L351 306.8L345.5 308.2L344.2 302L344 296Z"/>
<path id="p172" d="M351 291L353.5 287L358 283L361.5 281L364 284L367.5 287.5L365 290.5L363.5 291.5L356.5 291.8L356 294.2L352 294.2Z"/>
<path id="p173" d="M356.5 292L363 291.5L364 297L364.5 304L359 307L356.5 306.5L355.5 302L356.5 299L356 294.5Z"/>
<path id="p174" d="M363.5 291.5L365 292L366 295L367 304L364.8 304.2L364 297Z"/>
<path id="p175" d="M365.5 292L368 289L370.5 288.5L371 292L370 296L369.5 303.5L367.2 303.8L366 295Z"/>
<path id="p176" d="M370.5 288.5L372.5 284.5L378 284.5L384 286L392 285L395.5 287L395 291L392.5 296L388 301L384 304L382 307.5L378 308.5L375 306L372.5 303.5L369.5 303.5L370 296L371 292Z"/>
<path id="p177" d="M395.5 287L397 292L398 293.5L396 294.5L398 301L397 306L399.5 314L394 313.5L386 313.5L385 311L383 307.5L384 304L388 301L392.5 296L395 291Z"/>
<path id="p178" d="M399 299L403.5 297L408 295L411.5 292.5L415 290L417.5 293L420 296L422.5 299L425 302L426.5 304.5L428 307L423.5 307L419 307L416.5 308L414 309L410 308.5L406 308L404.5 310.5L403 313L401 313L399 313L398 309L397 305L398 302Z"/>
<path id="p179" d="M446 283L450.5 283L455 283L458.5 285.5L462 288L462.5 290L463 292L464 293L465 294L469 295.5L473 297L472.5 298L472 299L469 302L466 305L462 307L458 309L454 309.5L450 310L447 307.5L444 305L442 302L440 299L440 296.5L440 294L441 291.5L442 289L444 286Z"/>
<path id="p180" d="M448 275L449.5 274.5L451 274L452.5 277L454 280L458 283.7L462 287.4L460 286L458.5 285.5L455 283L450.5 282.8L446 282.6L447 278.8Z"/>
<path id="p181" d="M461.6 287.6L463.6 288L463.4 290.4L461.8 290.6Z"/>
<path id="p182" d="M463 292L467.5 291L472 290L476 289L480 287.4L480.4 290L480 293L478 298L476 303L472.5 308L469 313L467 314.5L465 316L462 320L459 324L458.5 321L458.6 317L458.8 313L459 310L462.5 307L466 305L469 302L472 299L472.5 298L473 297L469 295.5L465 294Z"/>
<path id="p183" d="M442 309L446 309.5L450 310.2L454 309.6L458 309.4L458.5 311.2L459 313L458.5 318L458 323L455.5 327.5L453 332L448 328L443.5 324L444.5 320.5L444.4 317L443 313Z"/>
<path id="p184" d="M433 311L437.5 310.2L441 309.4L442.8 313.2L444.4 317L443.2 320.5L442 323L437.5 323L433 323L432.7 320L432.4 317L432.6 314Z"/>
<path id="p185" d="M433 325L437 324L441 323L444.5 324.5L448 326L450.5 329.5L453 333L453.5 336.5L454 340L454.5 343.5L455 347L451.5 348.5L448 350L445.5 349.5L443 349L441 346L439 343L436 341L433 339L432 335.5L431 332L432 328.5Z"/>
<path id="p186" d="M430 324L431.5 323.8L433 323.6L433.3 326.8L433.6 330L432 330.8L430.4 331.6L430.2 328Z"/>
<path id="p187" d="M403 313L404.5 310.5L406 308L410 308.5L414 309L416.5 308L419 307L423.5 307.2L428 307.4L431 309L434 310.6L433.2 313.8L432.4 317L432.2 320L432 323L430 324.5L430.2 328L430.4 331.6L431 332L432 335.5L433 339L431 341L429 343L429 346L429 349L429.5 351.5L430 354L428 352.5L426 351L422 350L418 349L416 348.5L414 348L413.5 344L413 340L410.5 339L408 338L406 339.5L404 341L402.5 338.5L401 336L396.5 335.8L392 335.6L391.5 334.3L391 333L394.5 331.5L398 330L399.5 327L401 324L402.5 320L404 316Z"/>
<path id="p188" d="M397 313.4L399 313.4L401 313.2L403 313L404 316L402.5 320L401 324L399.5 327L398 330L394.5 331.5L391 332.6L390 331.3L389 330L391 328L393 326L394.5 326L396 326L396 322L396 318L394.5 316.3L393 314.6L395 314Z"/>
<path id="p189" d="M385 315.4L389 315L393 314.6L394.5 316.3L396 318L396 322L396 326L394.5 326L393 326L391.5 327.5L390 329L387 325.5L384 322L384.5 318.5Z"/>
<path id="p190" d="M385 313.4L389 313.4L389 315.4L385 315.6Z"/>
<path id="p191" d="M392 335.6L396.5 335.8L401 336L402.5 338.5L404 341L406 339.5L408 338L410.5 339L413 340L413.5 344L414 348L416 348.5L418 349L415.5 351.5L413 354L413 358L413 362L414.5 364L416 366L413 366.2L410 366.4L405.5 365.7L401 365.4L395.5 365.4L390 365.4L390 361.5L390 358L391.5 354L393 350L393 346L393 342Z"/>
<path id="p192" d="M389.6 330.4L391.4 330.2L391.6 333L390 333Z"/>
<path id="p193" d="M418 349.4L422 350.4L426 351.4L428 352.9L430 354.4L429.5 351.7L429 349L429 346L429 343L431 342L433 341L436 342.3L439 343.6L439.5 346.8L440 350L439 353.5L438 357L435 357.5L432 358L429.5 361L427 364L424 365L421 366L418.5 366L416 366L414.5 364L413 362L413 358L413 354L415.5 351.7Z"/>
<path id="p194" d="M439.6 345L440.8 346.5L442 348L442.5 352L443 356L443.7 358.5L444.4 361L443.4 361.5L442.4 362L441.7 359.5L441 357L440 355.5L439 354L439.8 350Z"/>
<path id="p195" d="M443 349.6L445.5 350L448 350.4L451.5 349L455 347.6L455.5 352.8L456 358L454 361L452 364L448 367L444 370L443 372L442 374L442.8 378L443.6 382L440.8 384L438 386L437 387L436 388L435.5 384L435 380L436.5 377L438 374L438 369L438 364L435.2 361.2L432.4 358.4L435.2 357.7L438 357L439.5 357L441 357L441.7 359.5L442.4 362L443.4 361.5L444.4 361L443.7 358.5L443 356L442.5 352Z"/>
<path id="p196" d="M421 366.4L424 365.2L427 364L429.5 361.2L432 358.4L434.8 361.2L437.6 364L437.8 368.5L438 373L436 375.5L434 378L431.5 377.5L429 377L426.5 375L424 373L422.5 369.5Z"/>
<path id="p197" d="M410 367L413 366.7L416 366.4L418.5 366.4L421 366.4L422.5 369.5L424 373L426.5 375L429 377L427.5 378.5L426 380L423.5 383L421 386L418 386.5L415 387L412.5 388.3L410 389.6L409 387.8L408 386L408.5 381.5L409 377L409.3 372.5Z"/>
<path id="p198" d="M390 365.4L395.5 365.4L401 365.4L405.5 366L410 366.8L413 366.5L416 366.2L413 367.2L409.6 368L409.3 372.5L409 377L408.5 381.5L408 386L408 390L408 394L406 394.8L404 395.6L401.5 394.3L399 393L397.5 387.5L396 382L394.5 378L393 374L391.5 369.5Z"/>
<path id="p199" d="M400 394L402 394.8L404 395.6L406 394.8L408 394L408 390L408 386.4L409 388L410 389.6L412.5 388.3L415 387L418 386.5L421 386L423.5 383L426 380L428 379L430 378L432 378.5L434 379L434.5 382L435 385L435.7 386.5L436.4 388L436.2 390L436 392L434 395L432 398L429 401L426 404L422 406L418 408L414 408.5L410 409L407.5 409.8L405 410.6L403.7 408.3L402.4 406L402.7 403L403 400L401.5 397Z"/>
<path id="p200" d="M423 396.6L424.5 395.8L426 395L427.2 396L428.4 397L427 398.5L425.6 400L424 398.5Z"/>
<path id="p201" d="M431.8 388L433.4 387.6L435 388.4L434.8 390.4L433 391L431.8 389.8Z"/>
<path id="p202" d="M475 352L476.5 353.5L478 355L477.5 358.5L477 362L475.5 367L474 372L472 378L470 384L467.5 385.5L465 387L463 385.5L461 384L461 380L461 376L462.5 372.5L464 369L464 366L464 363L467 361.5L470 360L471.5 357.5L473 355Z"/>
<path id="p203" d="M462.3 350.3L463 350.3L463 351L462.3 351Z"/>
<path id="p204" d="M464.2 351.8L464.9 351.8L464.9 352.4L464.2 352.4Z"/>
<path id="p205" d="M492.8 372.8L493.3 372.8L493.3 373.3L492.8 373.3Z"/>
<path id="p206" d="M490.5 331.9L490.9 331.9L490.9 332.3L490.5 332.3Z"/>
<path id="p207" d="M377.8 319.8L378.4 319.8L378.4 320.4L377.8 320.4Z"/>
<path id="p208" d="M309.8 277.8L310.5 277.8L310.5 278.4L309.8 278.4Z"/>
<path id="p209" d="M311.2 280.2L311.9 280.2L311.9 280.8L311.2 280.8Z"/>
<path id="p210" d="M199 136.5L203 135L208 135.5L207 138L203 139L200 138.5Z"/>
<path id="p211" d="M209 135L214 134L219 134.5L218 137.5L213 138L210 137.5Z"/>
<path id="p212" d="M197 143L200 142L203 143.5L200 145L197.5 144.5Z"/>
<path id="p213" d="M672.2 334.6L673.4 334.4L673.2 337.6L672 337.4Z"/>
</defs>
<g stroke-width="0.7">
<use href="#p0" fill="#8f2d04" stroke="#8f2d04"/>
<use href="#p1" fill="#8f2d04" stroke="#8f2d04"/>
<use href="#p2" fill="#8f2d04" stroke="#8f2d04"/>
<use href="#p3" fill="#8f2d04" stroke="#8f2d04"/>
<use href="#p4" fill="#8f2d04" stroke="#8f2d04"/>
<use href="#p5" fill="#8f2d04" stroke="#8f2d04"/>
<use href="#p6" fill="#8f2d04" stroke="#8f2d04"/>
<use href="#p7" fill="#8f2d04" stroke="#8f2d04"/>
<use href="#p8" fill="#8f2d04" stroke="#8f2d04"/>
<use href="#p9" fill="#8f2d04" stroke="#8f2d04"/>
<use href="#p10" fill="#8f2d04" stroke="#8f2d04"/>
<use href="#p11" fill="#8f2d04" stroke="#8f2d04"/>
<use href="#p12" fill="#8f2d04" stroke="#8f2d04"/>
<use href="#p13" fill="#8f2d04" stroke="#8f2d04"/>
<use href="#p14" fill="#8f2d04" stroke="#8f2d04"/>
<use href="#p15" fill="#8f2d04" stroke="#8f2d04"/>
<use href="#p16" fill="#8f2d04" stroke="#8f2d04"/>
<use href="#p17" fill="#8f2d04" stroke="#8f2d04"/>
<use href="#p18" fill="#8f2d04" stroke="#8f2d04"/>
<use href="#p19" fill="#8f2d04" stroke="#8f2d04"/>
<use href="#p20" fill="#8f2d04" stroke="#8f2d04"/>
<use href="#p21" fill="#a63603" stroke="#a63603"/>
<use href="#p22" fill="#fdd0a2" stroke="#fdd0a2"/>
<use href="#p23" fill="#d94801" stroke="#d94801"/>
<use href="#p24" fill="#f16913" stroke="#f16913"/>
<use href="#p25" fill="#fd8d3c" stroke="#fd8d3c"/>
<use href="#p26" fill="#fdae6b" stroke="#fdae6b"/>
<use href="#p27" fill="#7f2704" stroke="#7f2704"/>
<use href="#p28" fill="#a63603" stroke="#a63603"/>
<use href="#p29" fill="#f16913" stroke="#f16913"/>
<use href="#p30" fill="#d94801" stroke="#d94801"/>
<use href="#p31" fill="#fdae6b" stroke="#fdae6b"/>
<use href="#p32" fill="#a63603" stroke="#a63603"/>
<use href="#p33" fill="#fd8d3c" stroke="#fd8d3c"/>
<use href="#p34" fill="#a63603" stroke="#a63603"/>
<use href="#p35" fill="#8f2d04" stroke="#8f2d04"/>
<use href="#p36" fill="#fdd0a2" stroke="#fdd0a2"/>
<use href="#p37" fill="#fdd0a2" stroke="#fdd0a2"/>
<use href="#p38" fill="#f16913" stroke="#f16913"/>
<use href="#p39" fill="#7f2704" stroke="#7f2704"/>
<use href="#p40" fill="#d94801" stroke="#d94801"/>
<use href="#p41" fill="#fdd0a2" stroke="#fdd0a2"/>
<use href="#p42" fill="#f16913" stroke="#f16913"/>
<use href="#p43" fill="#7f2704" stroke="#7f2704"/>
<use href="#p44" fill="#8f2d04" stroke="#8f2d04"/>
<use href="#p45" fill="#8f2d04" stroke="#8f2d04"/>
<use href="#p46" fill="#8f2d04" stroke="#8f2d04"/>
<use href="#p47" fill="#8f2d04" stroke="#8f2d04"/>
<use href="#p48" fill="#8f2d04" stroke="#8f2d04"/>
<use href="#p49" fill="#8f2d04" stroke="#8f2d04"/>
<use href="#p50" fill="#8f2d04" stroke="#8f2d04"/>
<use href="#p51" fill="#8f2d04" stroke="#8f2d04"/>
<use href="#p52" fill="#8f2d04" stroke="#8f2d04"/>
<use href="#p53" fill="#8f2d04" stroke="#8f2d04"/>
<use href="#p54" fill="#8f2d04" stroke="#8f2d04"/>
<use href="#p55" fill="#8f2d04" stroke="#8f2d04"/>
<use href="#p56" fill="#8f2d04" stroke="#8f2d04"/>
<use href="#p57" fill="#fd8d3c" stroke="#fd8d3c"/>
<use href="#p58" fill="#7f2704" stroke="#7f2704"/>
<use href="#p59" fill="#7f2704" stroke="#7f2704"/>
<use href="#p60" fill="#f16913" stroke="#f16913"/>
<use href="#p61" fill="#fd8d3c" stroke="#fd8d3c"/>
<use href="#p62" fill="#f16913" stroke="#f16913"/>
<use href="#p63" fill="#a63603" stroke="#a63603"/>
<use href="#p64" fill="#a63603" stroke="#a63603"/>
<use href="#p65" fill="#7f2704" stroke="#7f2704"/>
<use href="#p66" fill="#8f2d04" stroke="#8f2d04"/>
<use href="#p67" fill="#8f2d04" stroke="#8f2d04"/>
<use href="#p68" fill="#8f2d04" stroke="#8f2d04"/>
<use href="#p69" fill="#8f2d04" stroke="#8f2d04"/>
<use href="#p70" fill="#8f2d04" stroke="#8f2d04"/>
<use href="#p71" fill="#8f2d04" stroke="#8f2d04"/>
<use href="#p72" fill="#fdd0a2" stroke="#fdd0a2"/>
<use href="#p73" fill="#fd8d3c" stroke="#fd8d3c"/>
<use href="#p74" fill="#f16913" stroke="#f16913"/>
<use href="#p75" fill="#fd8d3c" stroke="#fd8d3c"/>
<use href="#p76" fill="#fdae6b" stroke="#fdae6b"/>
<use href="#p77" fill="#8f2d04" stroke="#8f2d04"/>
<use href="#p78" fill="#8f2d04" stroke="#8f2d04"/>
<use href="#p79" fill="#d94801" stroke="#d94801"/>
<use href="#p80" fill="#d94801" stroke="#d94801"/>
<use href="#p81" fill="#8f2d04" stroke="#8f2d04"/>
<use href="#p82" fill="#a63603" stroke="#a63603"/>
<use href="#p83" fill="#fd8d3c" stroke="#fd8d3c"/>
<use href="#p84" fill="#d94801" stroke="#d94801"/>
<use href="#p85" fill="#fdae6b" stroke="#fdae6b"/>
<use href="#p86" fill="#a63603" stroke="#a63603"/>
<use href="#p87" fill="#f16913" stroke="#f16913"/>
<use href="#p88" fill="#f16913" stroke="#f16913"/>
<use href="#p89" fill="#f16913" stroke="#f16913"/>
<use href="#p90" fill="#fdae6b" stroke="#fdae6b"/>
<use href="#p91" fill="#fd8d3c" stroke="#fd8d3c"/>
<use href="#p92" fill="#f16913" stroke="#f16913"/>
<use href="#p93" fill="#7f2704" stroke="#7f2704"/>
<use href="#p94" fill="#7f2704" stroke="#7f2704"/>
<use href="#p95" fill="#fd8d3c" stroke="#fd8d3c"/>
<use href="#p96" fill="#d94801" stroke="#d94801"/>
<use href="#p97" fill="#d94801" stroke="#d94801"/>
<use href="#p98" fill="#fdd0a2" stroke="#fdd0a2"/>
<use href="#p99" fill="#fdd0a2" stroke="#fdd0a2"/>
<use href="#p100" fill="#fdd0a2" stroke="#fdd0a2"/>
<use href="#p101" fill="#a63603" stroke="#a63603"/>
<use href="#p102" fill="#fdd0a2" stroke="#fdd0a2"/>
<use href="#p103" fill="#fd8d3c" stroke="#fd8d3c"/>
<use href="#p104" fill="#fdd0a2" stroke="#fdd0a2"/>
<use href="#p105" fill="#fdd0a2" stroke="#fdd0a2"/>
<use href="#p106" fill="#fee6ce" stroke="#fee6ce"/>
<use href="#p107" fill="#fdae6b" stroke="#fdae6b"/>
<use href="#p108" fill="#fdd0a2" stroke="#fdd0a2"/>
<use href="#p109" fill="#fdd0a2" stroke="#fdd0a2"/>
<use href="#p110" fill="#fdd0a2" stroke="#fdd0a2"/>
<use href="#p111" fill="#fdd0a2" stroke="#fdd0a2"/>
<use href="#p112" fill="#a63603" stroke="#a63603"/>
<use href="#p113" fill="#a63603" stroke="#a63603"/>
<use href="#p114" fill="#a63603" stroke="#a63603"/>
<use href="#p115" fill="#a63603" stroke="#a63603"/>
<use href="#p116" fill="#a63603" stroke="#a63603"/>
<use href="#p117" fill="#a63603" stroke="#a63603"/>
<use href="#p118" fill="#fdae6b" stroke="#fdae6b"/>
<use href="#p119" fill="#a63603" stroke="#a63603"/>
<use href="#p120" fill="#fdae6b" stroke="#fdae6b"/>
<use href="#p121" fill="#7f2704" stroke="#7f2704"/>
<use href="#p122" fill="#a63603" stroke="#a63603"/>
<use href="#p123" fill="#a63603" stroke="#a63603"/>
<use href="#p124" fill="#a63603" stroke="#a63603"/>
<use href="#p125" fill="#a63603" stroke="#a63603"/>
<use href="#p126" fill="#a63603" stroke="#a63603"/>
<use href="#p127" fill="#fee6ce" stroke="#fee6ce"/>
<use href="#p128" fill="#fee6ce" stroke="#fee6ce"/>
<use href="#p129" fill="#fee6ce" stroke="#fee6ce"/>
<use href="#p130" fill="#fee6ce" stroke="#fee6ce"/>
<use href="#p131" fill="#fee6ce" stroke="#fee6ce"/>
<use href="#p132" fill="#fee6ce" stroke="#fee6ce"/>
<use href="#p133" fill="#a63603" stroke="#a63603"/>
<use href="#p134" fill="#a63603" stroke="#a63603"/>
<use href="#p135" fill="#a63603" stroke="#a63603"/>
<use href="#p136" fill="#a63603" stroke="#a63603"/>
<use href="#p137" fill="#a63603" stroke="#a63603"/>
<use href="#p138" fill="#a63603" stroke="#a63603"/>
<use href="#p139" fill="#a63603" stroke="#a63603"/>
<use href="#p140" fill="#fee6ce" stroke="#fee6ce"/>
<use href="#p141" fill="#f16913" stroke="#f16913"/>
<use href="#p142" fill="#a63603" stroke="#a63603"/>
<use href="#p143" fill="#7f2704" stroke="#7f2704"/>
<use href="#p144" fill="#8f2d04" stroke="#8f2d04"/>
<use href="#p145" fill="#f16913" stroke="#f16913"/>
<use href="#p146" fill="#fd8d3c" stroke="#fd8d3c"/>
<use href="#p147" fill="#f16913" stroke="#f16913"/>
<use href="#p148" fill="#a63603" stroke="#a63603"/>
<use href="#p149" fill="#d94801" stroke="#d94801"/>
<use href="#p150" fill="#7f2704" stroke="#7f2704"/>
<use href="#p151" fill="#7f2704" stroke="#7f2704"/>
<use href="#p152" fill="#fdae6b" stroke="#fdae6b"/>
<use href="#p153" fill="#a63603" stroke="#a63603"/>
<use href="#p154" fill="#fee6ce" stroke="#fee6ce"/>
<use href="#p155" fill="#fd8d3c" stroke="#fd8d3c"/>
<use href="#p156" fill="#8f2d04" stroke="#8f2d04"/>
<use href="#p157" fill="#d94801" stroke="#d94801"/>
<use href="#p158" fill="#fee6ce" stroke="#fee6ce"/>
<use href="#p159" fill="#fdae6b" stroke="#fdae6b"/>
<use href="#p160" fill="#a63603" stroke="#a63603"/>
<use href="#p161" fill="#fdae6b" stroke="#fdae6b"/>
<use href="#p162" fill="#fee6ce" stroke="#fee6ce"/>
<use href="#p163" fill="#fee6ce" stroke="#fee6ce"/>
<use href="#p164" fill="#fee6ce" stroke="#fee6ce"/>
<use href="#p165" fill="#fee6ce" stroke="#fee6ce"/>
<use href="#p166" fill="#fee6ce" stroke="#fee6ce"/>
<use href="#p167" fill="#fdd0a2" stroke="#fdd0a2"/>
<use href="#p168" fill="#fee6ce" stroke="#fee6ce"/>
<use href="#p169" fill="#fee6ce" stroke="#fee6ce"/>
<use href="#p170" fill="#fdd0a2" stroke="#fdd0a2"/>
<use href="#p171" fill="#d94801" stroke="#d94801"/>
<use href="#p172" fill="#fdd0a2" stroke="#fdd0a2"/>
<use href="#p173" fill="#fee6ce" stroke="#fee6ce"/>
<use href="#p174" fill="#fdae6b" stroke="#fdae6b"/>
<use href="#p175" fill="#fff5eb" stroke="#fff5eb"/>
<use href="#p176" fill="#fdd0a2" stroke="#fdd0a2"/>
<use href="#p177" fill="#fdae6b" stroke="#fdae6b"/>
<use href="#p178" fill="#fee6ce" stroke="#fee6ce"/>
<use href="#p179" fill="#fdd0a2" stroke="#fdd0a2"/>
<use href="#p180" fill="#fee6ce" stroke="#fee6ce"/>
<use href="#p181" fill="#fff5eb" stroke="#fff5eb"/>
<use href="#p182" fill="#fee6ce" stroke="#fee6ce"/>
<use href="#p183" fill="#fdd0a2" stroke="#fdd0a2"/>
<use href="#p184" fill="#fdd0a2" stroke="#fdd0a2"/>
<use href="#p185" fill="#fdae6b" stroke="#fdae6b"/>
<use href="#p186" fill="#fff5eb" stroke="#fff5eb"/>
<use href="#p187" fill="#fee6ce" stroke="#fee6ce"/>
<use href="#p188" fill="#fee6ce" stroke="#fee6ce"/>
<use href="#p189" fill="#fee6ce" stroke="#fee6ce"/>
<use href="#p190" fill="#fdd0a2" stroke="#fdd0a2"/>
<use href="#p191" fill="#fee6ce" stroke="#fee6ce"/>
<use href="#p192" fill="#fee6ce" stroke="#fee6ce"/>
<use href="#p193" fill="#fdd0a2" stroke="#fdd0a2"/>
<use href="#p194" fill="#fdd0a2" stroke="#fdd0a2"/>
<use href="#p195" fill="#fdd0a2" stroke="#fdd0a2"/>
<use href="#p196" fill="#fdd0a2" stroke="#fdd0a2"/>
<use href="#p197" fill="#fdd0a2" stroke="#fdd0a2"/>
<use href="#p198" fill="#fff5eb" stroke="#fff5eb"/>
<use href="#p199" fill="#f16913" stroke="#f16913"/>
<use href="#p200" fill="#fdd0a2" stroke="#fdd0a2"/>
<use href="#p201" fill="#fdd0a2" stroke="#fdd0a2"/>
<use href="#p202" fill="#fee6ce" stroke="#fee6ce"/>
<use href="#p203" fill="#fdd0a2" stroke="#fdd0a2"/>
<use href="#p204" fill="#fdd0a2" stroke="#fdd0a2"/>
<use href="#p205" fill="#fd8d3c" stroke="#fd8d3c"/>
<use href="#p206" fill="#fdd0a2" stroke="#fdd0a2"/>
<use href="#p207" fill="#fdd0a2" stroke="#fdd0a2"/>
<use href="#p208" fill="#fee6ce" stroke="#fee6ce"/>
<use href="#p209" fill="#fee6ce" stroke="#fee6ce"/>
<use href="#p210" fill="#8f2d04" stroke="#8f2d04"/>
<use href="#p211" fill="#8f2d04" stroke="#8f2d04"/>
<use href="#p212" fill="#8f2d04" stroke="#8f2d04"/>
<use href="#p213" fill="#a63603" stroke="#a63603"/>
</g>
<g fill="none" stroke="#4a3a32" stroke-opacity="0.5" stroke-width="0.4">
<use href="#p0"/>
<use href="#p1"/>
<use href="#p2"/>
<use href="#p3"/>
<use href="#p4"/>
<use href="#p5"/>
<use href="#p6"/>
<use href="#p7"/>
<use href="#p8"/>
<use href="#p9"/>
<use href="#p10"/>
<use href="#p11"/>
<use href="#p12"/>
<use href="#p13"/>
<use href="#p14"/>
<use href="#p15"/>
<use href="#p16"/>
<use href="#p17"/>
<use href="#p18"/>
<use href="#p19"/>
<use href="#p20"/>
<use href="#p21"/>
<use href="#p22"/>
<use href="#p23"/>
<use href="#p24"/>
<use href="#p25"/>
<use href="#p26"/>
<use href="#p27"/>
<use href="#p28"/>
<use href="#p29"/>
<use href="#p30"/>
<use href="#p31"/>
<use href="#p32"/>
<use href="#p33"/>
<use href="#p34"/>
<use href="#p35"/>
<use href="#p36"/>
<use href="#p37"/>
<use href="#p38"/>
<use href="#p39"/>
<use href="#p40"/>
<use href="#p41"/>
<use href="#p42"/>
<use href="#p43"/>
<use href="#p44"/>
<use href="#p45"/>
<use href="#p46"/>
<use href="#p47"/>
<use href="#p48"/>
<use href="#p49"/>
<use href="#p50"/>
<use href="#p51"/>
<use href="#p52"/>
<use href="#p53"/>
<use href="#p54"/>
<use href="#p55"/>
<use href="#p56"/>
<use href="#p57"/>
<use href="#p58"/>
<use href="#p59"/>
<use href="#p60"/>
<use href="#p61"/>
<use href="#p62"/>
<use href="#p63"/>
<use href="#p64"/>
<use href="#p65"/>
<use href="#p66"/>
<use href="#p67"/>
<use href="#p68"/>
<use href="#p69"/>
<use href="#p70"/>
<use href="#p71"/>
<use href="#p72"/>
<use href="#p73"/>
<use href="#p74"/>
<use href="#p75"/>
<use href="#p76"/>
<use href="#p77"/>
<use href="#p78"/>
<use href="#p79"/>
<use href="#p80"/>
<use href="#p81"/>
<use href="#p82"/>
<use href="#p83"/>
<use href="#p84"/>
<use href="#p85"/>
<use href="#p86"/>
<use href="#p87"/>
<use href="#p88"/>
<use href="#p89"/>
<use href="#p90"/>
<use href="#p91"/>
<use href="#p92"/>
<use href="#p93"/>
<use href="#p94"/>
<use href="#p95"/>
<use href="#p96"/>
<use href="#p97"/>
<use href="#p98"/>
<use href="#p99"/>
<use href="#p100"/>
<use href="#p101"/>
<use href="#p102"/>
<use href="#p103"/>
<use href="#p104"/>
<use href="#p105"/>
<use href="#p106"/>
<use href="#p107"/>
<use href="#p108"/>
<use href="#p109"/>
<use href="#p110"/>
<use href="#p111"/>
<use href="#p112"/>
<use href="#p113"/>
<use href="#p114"/>
<use href="#p115"/>
<use href="#p116"/>
<use href="#p117"/>
<use href="#p118"/>
<use href="#p119"/>
<use href="#p120"/>
<use href="#p121"/>
<use href="#p122"/>
<use href="#p123"/>
<use href="#p124"/>
<use href="#p125"/>
<use href="#p126"/>
<use href="#p127"/>
<use href="#p128"/>
<use href="#p129"/>
<use href="#p130"/>
<use href="#p131"/>
<use href="#p132"/>
<use href="#p133"/>
<use href="#p134"/>
<use href="#p135"/>
<use href="#p136"/>
<use href="#p137"/>
<use href="#p138"/>
<use href="#p139"/>
<use href="#p140"/>
<use href="#p141"/>
<use href="#p142"/>
<use href="#p143"/>
<use href="#p144"/>
<use href="#p145"/>
<use href="#p146"/>
<use href="#p147"/>
<use href="#p148"/>
<use href="#p149"/>
<use href="#p150"/>
<use href="#p151"/>
<use href="#p152"/>
<use href="#p153"/>
<use href="#p154"/>
<use href="#p155"/>
<use href="#p156"/>
<use href="#p157"/>
<use href="#p158"/>
<use href="#p159"/>
<use href="#p160"/>
<use href="#p161"/>
<use href="#p162"/>
<use href="#p163"/>
<use href="#p164"/>
<use href="#p165"/>
<use href="#p166"/>
<use href="#p167"/>
<use href="#p168"/>
<use href="#p169"/>
<use href="#p170"/>
<use href="#p171"/>
<use href="#p172"/>
<use href="#p173"/>
<use href="#p174"/>
<use href="#p175"/>
<use href="#p176"/>
<use href="#p177"/>
<use href="#p178"/>
<use href="#p179"/>
<use href="#p180"/>
<use href="#p181"/>
<use href="#p182"/>
<use href="#p183"/>
<use href="#p184"/>
<use href="#p185"/>
<use href="#p186"/>
<use href="#p187"/>
<use href="#p188"/>
<use href="#p189"/>
<use href="#p190"/>
<use href="#p191"/>
<use href="#p192"/>
<use href="#p193"/>
<use href="#p194"/>
<use href="#p195"/>
<use href="#p196"/>
<use href="#p197"/>
<use href="#p198"/>
<use href="#p199"/>
<use href="#p200"/>
<use href="#p201"/>
<use href="#p202"/>
<use href="#p203"/>
<use href="#p204"/>
<use href="#p205"/>
<use href="#p206"/>
<use href="#p207"/>
<use href="#p208"/>
<use href="#p209"/>
<use href="#p210"/>
<use href="#p211"/>
<use href="#p212"/>
<use href="#p213"/>
</g>
<g fill="#fff" stroke="#b9a9a0" stroke-width="0.3">
<path d="M460 203L463 200L468 198L472 199L471.5 201.5L468 204L471 208L475 210.5L477.5 211.5L478 213.5L475 213L475.5 216L478 220L478.5 223L475 224L471 223L468.5 221L468 218L469.5 215L466 211L463 208L460.5 205Z"/>
</g>
<g fill="none" stroke="#d9c4b8" stroke-opacity="0.55" stroke-width="0.45">
<path d="M127.4 143.6L116 154L105 164.5L108 167L111 168.5L113 172L112 177L114 183L115 190"/>
<path d="M115 192L172 192L176 193L180 194.5L185 194.5L190 198L193 202.5L191 207L188 210L189.5 211.5L197 208.5L205 204L210 202.5L217 202L222 197L224 196.5L224.5 199.5L223.5 201.5L225 203"/>
<path d="M210 379L208 392L209 410L212 430L216 446L222 454L227 456.4"/>
<path d="M236 399L235.6 404L236 410"/>
<path d="M478.8 203L479.4 207.6L480.6 211.8"/>
<path d="M478.8 203L483.5 201.2L490 204.7L498.2 206.5L502.4 210.6L506.5 212.4L511.2 210"/>
</g>
</g>
<g id="legend">
<rect x="98.5" y="537.5" width="48" height="11" fill="url(#hatch)" stroke="#c9c9c9" stroke-width="1"/>
<line x1="122.5" y1="534" x2="122.5" y2="537" stroke="#c9c9c9"/>
<text class="lg" x="122.5" y="530" text-anchor="middle">No data</text>
<g stroke="none">
<rect x="166.1" y="537.5" width="58.5" height="11" fill="#fff5eb"/>
<rect x="224.6" y="537.5" width="58.5" height="11" fill="#fee6ce"/>
<rect x="283.1" y="537.5" width="58.5" height="11" fill="#fdd0a2"/>
<rect x="341.6" y="537.5" width="58.5" height="11" fill="#fdae6b"/>
<rect x="400.1" y="537.5" width="58.5" height="11" fill="#fd8d3c"/>
<rect x="458.6" y="537.5" width="58.5" height="11" fill="#f16913"/>
<rect x="517.1" y="537.5" width="58.5" height="11" fill="#d94801"/>
<rect x="575.6" y="537.5" width="58.5" height="11" fill="#a63603"/>
<rect x="634.1" y="537.5" width="58.5" height="11" fill="#902e04"/>
<path d="M692.6 537.5H746L751.3 543L746 548.5H692.6Z" fill="#7f2704"/>
</g>
<path d="M166.1 537.5H746L751.3 543L746 548.5H166.1Z" fill="none" stroke="#b5b5b5" stroke-width="0.6"/>
<g stroke="#8a8a8a" stroke-opacity="0.55" stroke-width="0.8">
<line x1="166.1" y1="534" x2="166.1" y2="548.5"/>
<line x1="224.6" y1="534" x2="224.6" y2="548.5"/>
<line x1="283.1" y1="534" x2="283.1" y2="548.5"/>
<line x1="341.6" y1="534" x2="341.6" y2="548.5"/>
<line x1="400.1" y1="534" x2="400.1" y2="548.5"/>
<line x1="458.6" y1="534" x2="458.6" y2="548.5"/>
<line x1="517.1" y1="534" x2="517.1" y2="548.5"/>
<line x1="575.6" y1="534" x2="575.6" y2="548.5"/>
<line x1="634.1" y1="534" x2="634.1" y2="548.5"/>
<line x1="692.6" y1="534" x2="692.6" y2="548.5"/>
</g>
<g class="lg" text-anchor="middle">
<text x="166.1" y="530">0 kg</text><text x="224.6" y="530">2 kg</text><text x="283.1" y="530">4 kg</text><text x="341.6" y="530">6 kg</text><text x="400.1" y="530">8 kg</text><text x="458.6" y="530">10 kg</text><text x="517.1" y="530">12 kg</text><text x="575.6" y="530">14 kg</text><text x="634.1" y="530">16 kg</text><text x="692.6" y="530">18 kg</text>
</g>
</g>
</svg>
<div id="foot-l"><b>Data source:</b> Food and Agriculture Organization of the United Nations (2025)</div>
<div id="foot-r">OurWorldinData.org/meat-production | CC BY</div>
</body></html>
